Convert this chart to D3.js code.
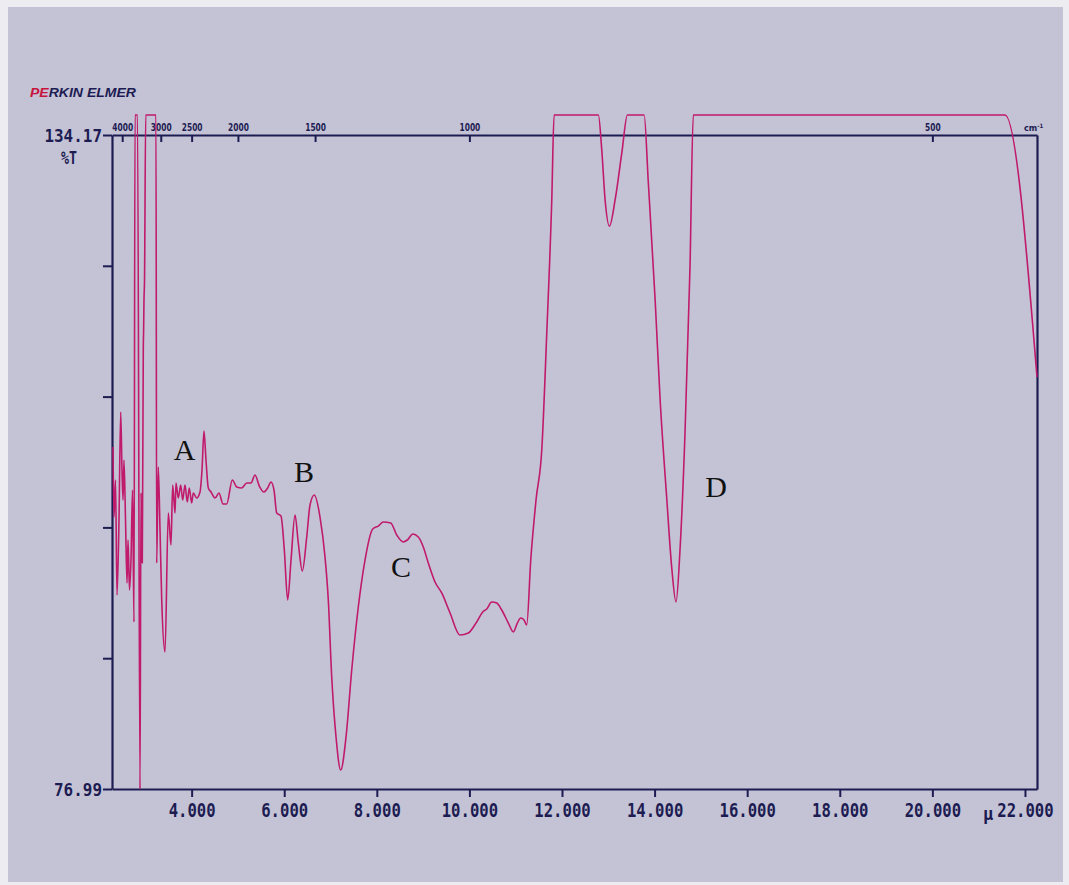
<!DOCTYPE html>
<html>
<head>
<meta charset="utf-8">
<script src="https://cdn.jsdelivr.net/npm/d3@7"></script>
<style>
  html, body { margin: 0; padding: 0; background: #ececf1; }
  svg { display: block; }
</style>
</head>
<body>
<div id="chart"></div>
<script>
'use strict';

// spectrum, wavelength in micrometres and %T
const wavelength = [
  2.302, 2.323, 2.356, 2.388, 2.431, 2.468, 2.496, 2.518, 2.539, 2.572,
  2.604, 2.626, 2.658, 2.690, 2.723, 2.755, 2.777, 2.831, 2.885, 2.906,
  2.934, 2.956, 2.963, 2.971, 2.982, 3.008, 3.230, 3.245, 3.280, 3.317,
  3.354, 3.425, 3.496, 3.554, 3.591, 3.641, 3.662, 3.712, 3.764, 3.807,
  3.857, 3.906, 3.949, 4.001, 4.036, 4.109, 4.181, 4.224, 4.267, 4.310,
  4.360, 4.418, 4.505, 4.591, 4.678, 4.758, 4.879, 4.974, 5.082, 5.190,
  5.282, 5.369, 5.462, 5.563, 5.643, 5.714, 5.779, 5.838, 5.930, 6.002,
  6.075, 6.147, 6.233, 6.304, 6.391, 6.486, 6.557, 6.650, 6.773, 6.881,
  6.952, 7.026, 7.119, 7.220, 7.335, 7.458, 7.600, 7.745, 7.911, 8.032,
  8.140, 8.300, 8.430, 8.573, 8.659, 8.776, 8.896, 9.004, 9.112, 9.257,
  9.402, 9.582, 9.797, 9.977, 10.143, 10.288, 10.374, 10.482, 10.590, 10.698,
  10.841, 10.949, 11.035, 11.108, 11.180, 11.238, 11.325, 11.439, 11.563, 11.671,
  11.779, 11.829, 12.786, 12.859, 12.931, 13.024, 13.147, 13.292, 13.413, 13.774,
  13.865, 14.012, 14.120, 14.265, 14.369, 14.463, 14.549, 14.657, 14.765, 14.836,
  21.569, 22.26
];

const transmittance = [
  106.89, 100.77, 104.01, 93.95, 100.51, 109.95, 104.88, 102.26, 105.76, 100.51,
  95.00, 98.76, 94.39, 97.01, 103.13, 91.59, 135.92, 135.92, 76.99, 102.87,
  96.75, 115.55, 117.12, 119.74, 121.32, 135.92, 135.92, 96.75, 105.14, 99.64,
  93.52, 88.97, 101.12, 98.32, 103.57, 101.12, 103.74, 102.43, 103.57, 102.26,
  103.57, 102.08, 103.31, 102.00, 102.87, 102.43, 102.96, 104.88, 108.29, 105.76,
  103.31, 102.96, 102.43, 102.87, 101.91, 101.91, 104.01, 103.39, 103.31, 103.74,
  103.74, 104.44, 103.48, 102.96, 103.31, 103.83, 103.13, 101.12, 100.86, 97.89,
  93.52, 97.01, 100.95, 98.50, 96.05, 99.02, 101.82, 102.70, 100.77, 97.27,
  93.52, 86.78, 81.54, 78.65, 81.54, 87.39, 92.90, 97.01, 99.72, 99.98,
  100.33, 100.25, 99.20, 98.59, 98.76, 99.28, 99.02, 98.15, 96.75, 95.09,
  94.13, 92.38, 90.45, 90.63, 91.50, 92.47, 92.73, 93.34, 93.25, 92.64,
  91.50, 90.72, 91.50, 91.94, 91.77, 91.33, 97.01, 102.26, 106.63, 116.86,
  128.49, 135.92, 135.92, 132.86, 128.49, 126.21, 128.49, 132.60, 135.92, 135.92,
  129.97, 119.74, 111.00, 102.26, 96.40, 93.34, 97.89, 108.12, 122.63, 135.92,
  135.92, 113.01
];

const bottomTicks = [4, 6, 8, 10, 12, 14, 16, 18, 20, 22];
const topTicks = [4000, 3000, 2500, 2000, 1500, 1000, 500];
const yTicks = [76.99, 88.426, 99.862, 111.298, 122.734, 134.17];
const yTickLabels = ['76.99', '', '', '', '', '134.17'];

const peakLetters = ['A', 'B', 'C', 'D'];
const peakWavelength = [3.846, 6.427, 8.522, 15.326];
const peakTransmittance = [105.76, 103.83, 95.53, 102.52];

const W = 1069, H = 885;
const ink = '#1d1c52';
const trace = '#c01a6c';

const svg = d3.select('#chart').append('svg')
    .attr('width', W)
    .attr('height', H);

// the scanned paper sheet
svg.append('rect')
    .attr('x', 8).attr('y', 7)
    .attr('width', 1055).attr('height', 875)
    .attr('fill', '#c4c3d6');

const x = d3.scaleLinear().domain([2.28, 22.26]).range([112, 1037]);
const y = d3.scaleLinear().domain([76.99, 134.17]).range([789, 135]);

// bottom axis, micrometres
const xAxis = d3.axisBottom(x)
    .tickValues(bottomTicks)
    .tickFormat(d3.format('.3f'))
    .tickSize(8)
    .tickSizeOuter(0)
    .tickPadding(7);

const gx = svg.append('g')
    .attr('transform', `translate(0, ${y.range()[0]})`)
    .call(xAxis);

// top axis, wavenumbers
const topAxis = d3.axisTop(x)
    .tickValues(topTicks.map(wn => 10000 / wn))
    .tickFormat((d, i) => topTicks[i])
    .tickSize(-7)
    .tickSizeOuter(0)
    .tickPadding(4);

const gt = svg.append('g')
    .attr('transform', `translate(0, ${y.range()[1]})`)
    .call(topAxis);

const yAxis = d3.axisLeft(y)
    .tickValues(yTicks)
    .tickFormat((d, i) => yTickLabels[i])
    .tickSize(9)
    .tickSizeOuter(0)
    .tickPadding(1);

const gy = svg.append('g')
    .attr('transform', `translate(${x.range()[0]}, 0)`)
    .call(yAxis);

const gr = svg.append('g')
    .attr('transform', `translate(${x.range()[1]}, 0)`)
    .call(d3.axisRight(y).tickValues([]).tickSizeOuter(0));

[gx, gt, gy, gr].forEach(g => {
  g.select('.domain').attr('stroke', ink).attr('stroke-width', 2.2);
  g.selectAll('.tick line').attr('stroke', ink).attr('stroke-width', 2);
});

gx.selectAll('.tick text')
    .attr('fill', ink)
    .style('font-family', '"DejaVu Sans Mono", monospace')
    .style('font-weight', 'bold')
    .style('font-size', '19px')
    .attr('textLength', function() { return this.textContent.length * 9.4; })
    .attr('lengthAdjust', 'spacingAndGlyphs');

gy.selectAll('.tick text')
    .attr('fill', ink)
    .attr('dy', '0.38em')
    .style('font-family', '"DejaVu Sans Mono", monospace')
    .style('font-weight', 'bold')
    .style('font-size', '18px')
    .attr('textLength', function() { return this.textContent.length * 9.6; })
    .attr('lengthAdjust', 'spacingAndGlyphs');

gt.selectAll('.tick text')
    .attr('fill', ink)
    .style('font-family', '"DejaVu Sans Condensed", "DejaVu Sans", sans-serif')
    .style('font-weight', 'bold')
    .style('font-size', '10px')
    .attr('textLength', function() { return this.textContent.length * 5.2; })
    .attr('lengthAdjust', 'spacingAndGlyphs');

// cm-1 unit on the top scale
const cm = svg.append('text')
    .attr('x', x.range()[1] - 13)
    .attr('y', y.range()[1] - 4)
    .attr('fill', ink)
    .style('font-family', '"DejaVu Sans Condensed", sans-serif')
    .style('font-weight', 'bold')
    .style('font-size', '9px')
    .text('cm');
cm.append('tspan').attr('dy', -3).style('font-size', '6px').text('-1');

// µ before the last bottom label
svg.append('text')
    .attr('x', x(22) - 42)
    .attr('y', y.range()[0] + 31)
    .attr('fill', ink)
    .style('font-family', '"DejaVu Sans Mono", monospace')
    .style('font-weight', 'bold')
    .style('font-size', '17px')
    .text('µ');

svg.append('text')
    .attr('x', 69)
    .attr('y', y.range()[1] + 29)
    .attr('text-anchor', 'middle')
    .attr('fill', ink)
    .style('font-family', '"DejaVu Sans Mono", monospace')
    .style('font-weight', 'bold')
    .style('font-size', '17px')
    .attr('textLength', 16)
    .attr('lengthAdjust', 'spacingAndGlyphs')
    .text('%T');

// instrument logo
const logo = svg.append('text')
    .attr('x', 30)
    .attr('y', 97)
    .attr('textLength', 106)
    .attr('lengthAdjust', 'spacingAndGlyphs')
    .style('font-family', '"Liberation Sans", Arial, sans-serif')
    .style('font-weight', 'bold')
    .style('font-style', 'italic')
    .style('font-size', '13px')
    .attr('fill', ink);
logo.append('tspan').attr('fill', '#c8143c').text('PE');
logo.append('tspan').text('RKIN ELMER');

// the spectrum
const points = wavelength.map((w, i) => [w, transmittance[i]]);

const line = d3.line()
    .x(d => x(d[0]))
    .y(d => y(d[1]))
    .curve(d3.curveMonotoneX);

svg.append('path')
    .datum(points)
    .attr('fill', 'none')
    .attr('stroke', trace)
    .attr('stroke-width', 1.6)
    .attr('stroke-linejoin', 'round')
    .attr('d', line);

// hand-written peak letters
svg.selectAll('.peak')
    .data(peakLetters)
  .enter().append('text')
    .attr('class', 'peak')
    .attr('x', (d, i) => x(peakWavelength[i]))
    .attr('y', (d, i) => y(peakTransmittance[i]))
    .attr('text-anchor', 'middle')
    .attr('fill', '#111')
    .style('font-family', '"Liberation Serif", "DejaVu Serif", serif')
    .style('font-size', '30px')
    .text(d => d);
</script>
</body>
</html>
